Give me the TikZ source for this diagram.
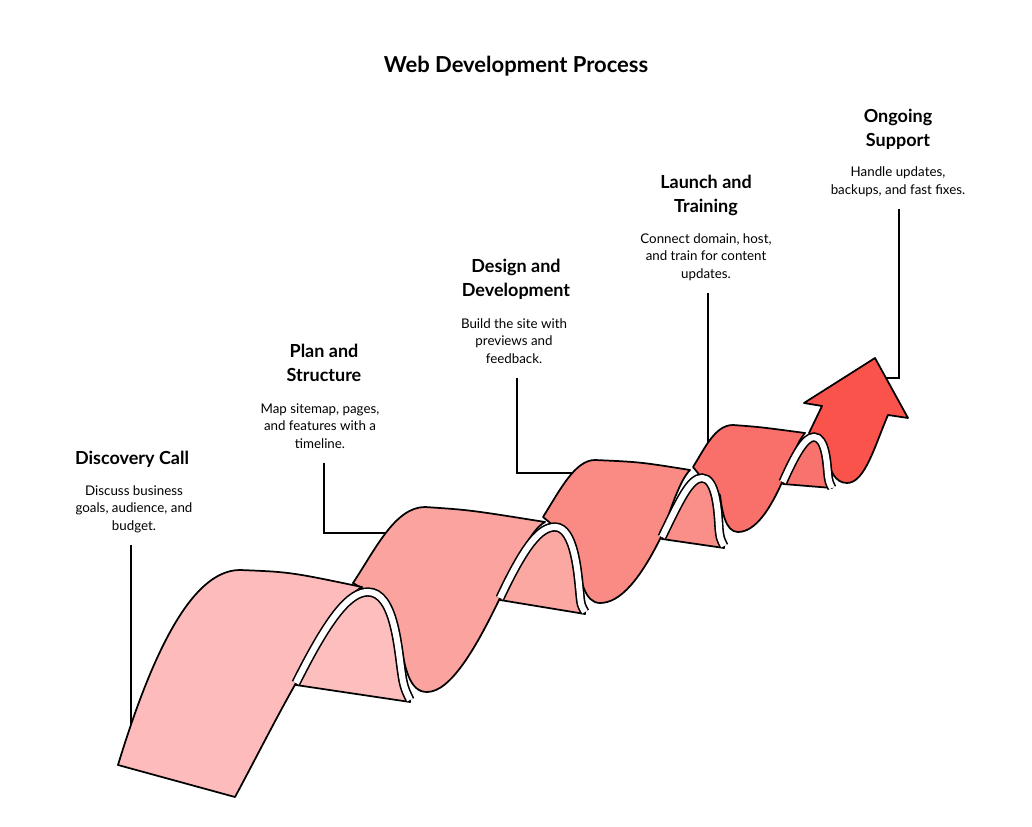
\documentclass[tikz,border=0pt]{standalone}
\usepackage{fontspec}
\setmainfont{Lato}
\begin{document}
\begin{tikzpicture}[x=0.75pt,y=-0.75pt,
  face/.style={draw=black,line width=1.3pt,line join=round},
  band/.style={line width=7pt,black,line cap=butt},
  bandw/.style={line width=4.6pt,white,line cap=butt},
  lead/.style={draw=black,line width=1.1pt},
  head/.style={font=\bfseries\fontsize{13.5}{18}\selectfont,align=center},
  body/.style={font=\fontsize{10}{13.2}\selectfont,align=center}]
\useasboundingbox (0,0) rectangle (1032,827);
\definecolor{c1}{HTML}{FDBCBB}\definecolor{c2}{HTML}{FBA39E}
\definecolor{c3}{HTML}{FA8A84}\definecolor{c4}{HTML}{F96F69}
\definecolor{c5}{HTML}{F9534C}
\definecolor{f1}{HTML}{FDBFBE}\definecolor{f2}{HTML}{FBA8A3}
\definecolor{f3}{HTML}{FA8F89}\definecolor{f4}{HTML}{F8736D}

% texts
\node[font=\bfseries\fontsize{16.5}{20}\selectfont] (title) at (516,66) {Web Development Process};
\node[head] (h1) at (132,459) {Discovery Call};
\node[body] (b1) at (134,509) {Discuss business\\goals, audience, and\\budget.};
\node[head] (h2) at (324,363) {Plan and\\Structure};
\node[body] (b2) at (320,426) {Map sitemap, pages,\\and features with a\\timeline.};
\node[head] (h3) at (516,279) {Design and\\Development};
\node[body] (b3) at (514,341) {Build the site with\\previews and\\feedback.};
\node[head] (h4) at (706,195) {Launch and\\Training};
\node[body] (b4) at (706,257) {Connect domain, host,\\and train for content\\updates.};
\node[head] (h5) at (898,129) {Ongoing\\Support};
\node[body] (b5) at (898,182) {Handle updates,\\backups, and fast fixes.};

% leader anchors
\coordinate (l1) at (131,545); \coordinate (e1) at (131,725);
\coordinate (l2) at (324,463); \coordinate (e2) at (385,533);
\coordinate (l3) at (517,378); \coordinate (e3) at (575,473);
\coordinate (l4) at (708,293); \coordinate (e4) at (708,445);
\coordinate (l5) at (899,209); \coordinate (e5) at (885,378);
\draw[lead] (l1) -- (e1);
\draw[lead] (l2) |- (e2);
\draw[lead] (l3) |- (e3);
\draw[lead] (l4) -- (e4);
\draw[lead] (l5) |- (e5);

% arrow
\draw[face,fill=c5] (809,433) -- (822,406) -- (804,403) -- (875,358) -- (908,418) -- (888,415)
  .. controls (875,445) and (865,483) .. (847,483) .. controls (835,483) and (830,470) .. (828,460) -- (814,437) -- cycle;
% segment 4
\draw[face,fill=f4] (783,484) .. controls (795,455) and (805,437) .. (814,437) .. controls (826,437) and (827,465) .. (828,475) .. controls (829,482) .. (832,488) -- cycle;
\draw[face,fill=c4] (693,467) .. controls (705,448) and (715,425) .. (733,425) .. controls (760,427) .. (805,433)
  .. controls (795,445) and (790,465) .. (783,480) .. controls (770,510) and (755,532) .. (738,532)
  .. controls (725,532) and (722,510) .. (720,495) -- (702,478) -- cycle;
\draw[band] (783,482) .. controls (795,455) and (805,437) .. (814,437) .. controls (826,437) and (827,465) .. (828,475) .. controls (829,482) .. (832,488);
\draw[bandw] (783,482) .. controls (795,455) and (805,437) .. (814,437) .. controls (826,437) and (827,465) .. (828,475) .. controls (829,482) .. (832,488);
% segment 3
\draw[face,fill=f3] (662,539) .. controls (680,500) and (690,478) .. (702,478) .. controls (716,478) and (718,510) .. (719,528) .. controls (720,538) .. (724,546) -- (724,548) -- cycle;
\draw[face,fill=c3] (543,517) .. controls (560,490) and (575,460) .. (595,460) .. controls (640,462) .. (690,470)
  .. controls (680,480) and (670,510) .. (662,535) .. controls (640,580) and (620,603) .. (600,603)
  .. controls (585,603) and (580,580) .. (578,560) -- (555,527) -- cycle;
\draw[band] (662,537) .. controls (680,500) and (690,478) .. (702,478) .. controls (716,478) and (718,510) .. (719,528) .. controls (720,538) .. (724,546);
\draw[bandw] (662,537) .. controls (680,500) and (690,478) .. (702,478) .. controls (716,478) and (718,510) .. (719,528) .. controls (720,538) .. (724,546);
% segment 2
\draw[face,fill=f2] (500,600) .. controls (525,545) and (540,527) .. (555,527) .. controls (575,527) and (578,575) .. (580,595) .. controls (581,605) .. (585,612) -- (585,614) -- cycle;
\draw[face,fill=c2] (353,583) .. controls (375,550) and (395,507) .. (425,507) .. controls (470,510) .. (545,522)
  .. controls (530,530) and (515,565) .. (500,598) .. controls (475,650) and (450,692) .. (427,692)
  .. controls (410,692) and (405,670) .. (400,640) -- (368,592) -- cycle;
\draw[band] (500,598) .. controls (525,545) and (540,527) .. (555,527) .. controls (575,527) and (578,575) .. (580,595) .. controls (581,605) .. (585,612);
\draw[bandw] (500,598) .. controls (525,545) and (540,527) .. (555,527) .. controls (575,527) and (578,575) .. (580,595) .. controls (581,605) .. (585,612);
% segment 1
\draw[face,fill=f1] (296,685) .. controls (330,615) and (350,592) .. (368,592) .. controls (395,592) and (398,650) .. (402,675) .. controls (404,690) and (408,695) .. (410,700) -- (410,702) -- cycle;
\draw[face,fill=c1] (118,765) .. controls (150,660) and (190,570) .. (240,570) .. controls (290,572) .. (362,587)
  .. controls (340,600) and (315,640) .. (296,683) .. controls (275,720) and (255,760) .. (235,797) -- cycle;
\draw[band] (296,683) .. controls (330,615) and (350,592) .. (368,592) .. controls (395,592) and (398,650) .. (402,675) .. controls (404,690) and (408,695) .. (410,700);
\draw[bandw] (296,683) .. controls (330,615) and (350,592) .. (368,592) .. controls (395,592) and (398,650) .. (402,675) .. controls (404,690) and (408,695) .. (410,700);
\end{tikzpicture}
\end{document}
